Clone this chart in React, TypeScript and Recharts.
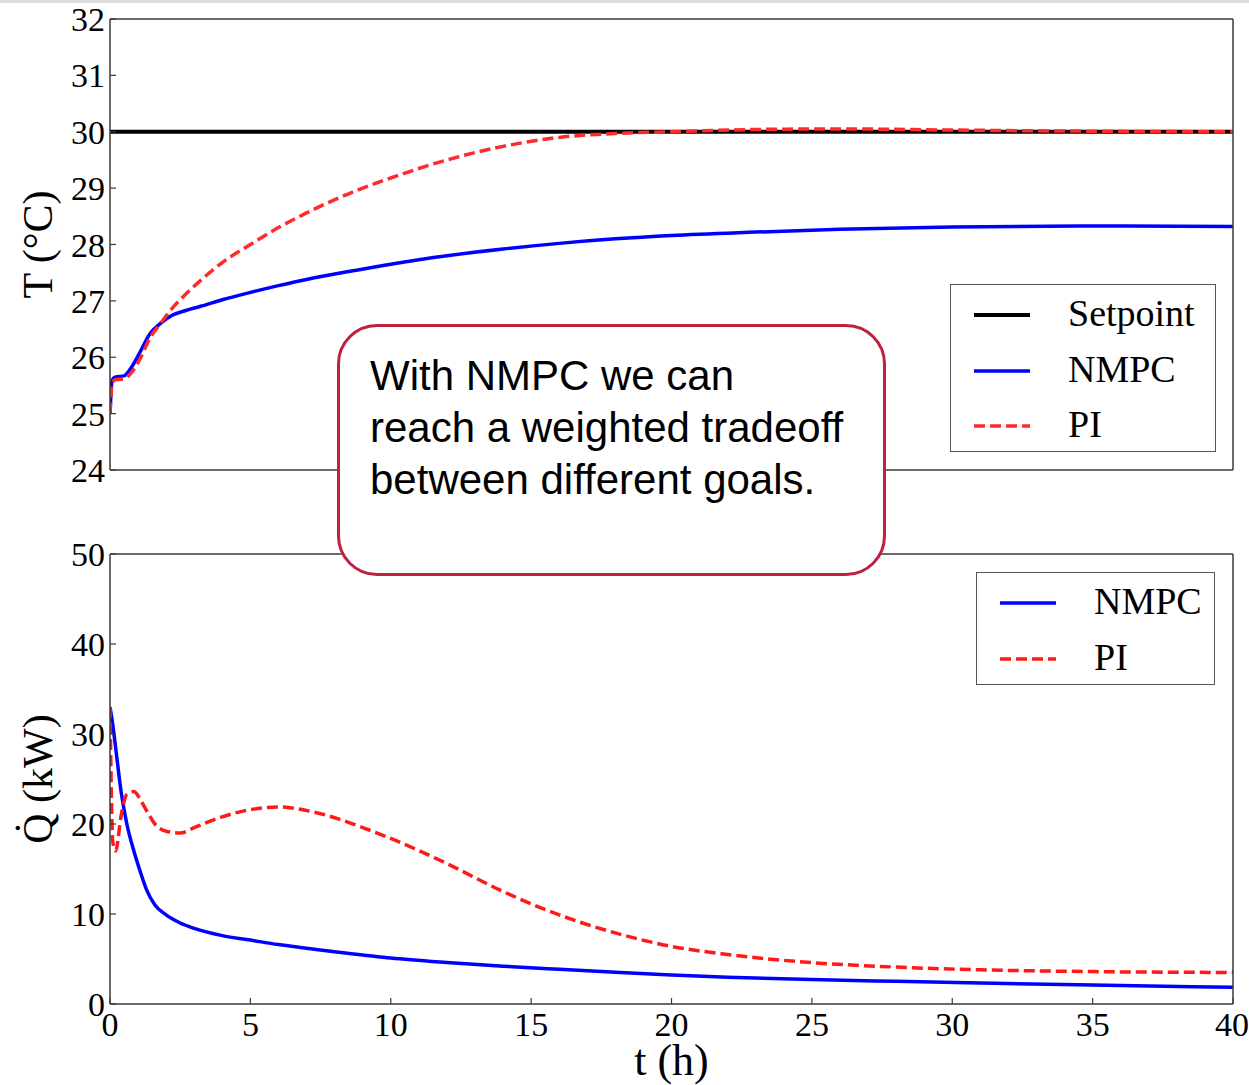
import { LineChart, Line, XAxis, YAxis, Legend, Label } from "recharts"

// time grid (h) and room temperature (°C)
const tempTime = [0, 0.08, 0.2, 0.5, 0.8, 1.1, 1.4, 1.8, 2.2, 2.7, 3.2, 4, 5, 6, 7, 8.5, 10, 12, 14, 16, 18, 20, 23, 26, 30, 35, 40]
const tempNmpc = [25.0, 25.6, 25.65, 25.67, 25.85, 26.12, 26.4, 26.6, 26.74, 26.83, 26.9, 27.02, 27.15, 27.27, 27.38, 27.52, 27.65, 27.8, 27.92, 28.02, 28.1, 28.16, 28.22, 28.27, 28.31, 28.33, 28.32]
const tempPi = [25.0, 25.55, 25.6, 25.62, 25.75, 26.0, 26.32, 26.6, 26.86, 27.12, 27.35, 27.68, 28.0, 28.3, 28.56, 28.9, 29.18, 29.5, 29.74, 29.9, 29.97, 30.0, 30.04, 30.05, 30.03, 30.01, 30.0]
const setpointTime = [0, 40]
const setpointValue = [30, 30]

// heating power (kW)
const heatTime = [0, 0.1, 0.2, 0.4, 0.6, 0.85, 1.1, 1.3, 1.6, 2, 2.5, 3, 4, 5, 6, 7, 8, 9, 10, 12, 14, 16, 18, 20, 22, 25, 28, 31, 35, 40]
const heatNmpc = [33, 31, 28.5, 23.5, 20, 17, 14.5, 12.7, 11, 9.9, 9.0, 8.4, 7.6, 7.1, 6.6, 6.2, 5.8, 5.45, 5.1, 4.6, 4.2, 3.85, 3.52, 3.22, 2.98, 2.72, 2.52, 2.33, 2.1, 1.85]
const heatPi = [33, 18, 17, 21, 23.3, 23.6, 22.6, 21.5, 20.0, 19.2, 19.0, 19.6, 20.8, 21.6, 21.9, 21.5, 20.7, 19.6, 18.4, 15.6, 12.5, 9.9, 7.9, 6.4, 5.5, 4.6, 4.1, 3.8, 3.6, 3.5]

const timeTicks = [0, 5, 10, 15, 20, 25, 30, 35, 40]
const tempTicks = [24, 25, 26, 27, 28, 29, 30, 31, 32]
const heatTicks = [0, 10, 20, 30, 40, 50]
const legendOrder = ["Setpoint", "NMPC", "PI"]

const serif = '"Liberation Serif", "DejaVu Serif", serif'
const frame = "#3a3a3a"
const tickFont = { fontFamily: serif, fontSize: 34, fill: "#000" }

const tempRows = tempTime.map((t, i) => ({ t, nmpc: tempNmpc[i], pi: tempPi[i] }))
const setpointRows = setpointTime.map((t, i) => ({ t, sp: setpointValue[i] }))
const heatRows = heatTime.map((t, i) => ({ t, nmpc: heatNmpc[i], pi: heatPi[i] }))

function LegendBox(props: any) {
  const items = [...(props.payload || [])].sort(
    (a: any, b: any) => legendOrder.indexOf(a.value) - legendOrder.indexOf(b.value)
  )
  return (
    <div
      style={{
        position: "relative",
        width: "100%",
        height: "100%",
        boxSizing: "border-box",
        border: "1.5px solid #555",
        background: "#fff",
        fontFamily: serif,
      }}
    >
      {items.map((it: any, i: number) => (
        <div key={it.value} style={{ position: "absolute", left: 22, top: 30 + i * 55.5, height: 0 }}>
          <svg width={58} height={10} style={{ position: "absolute", left: 0, top: -5 }}>
            <line
              x1={1}
              x2={57}
              y1={5}
              y2={5}
              stroke={it.color}
              strokeWidth={it.value === "Setpoint" ? 4 : 3.5}
              strokeDasharray={it.payload?.strokeDasharray}
            />
          </svg>
          <span
            style={{
              position: "absolute",
              left: 95,
              top: -24,
              fontSize: 38,
              lineHeight: "44px",
              whiteSpace: "nowrap",
              color: "#000",
            }}
          >
            {it.value}
          </span>
        </div>
      ))}
    </div>
  )
}

function SideLabel({ viewBox, text }: any) {
  const cx = viewBox.x + viewBox.width - 72
  const cy = viewBox.y + viewBox.height / 2
  return (
    <text
      x={cx}
      y={cy}
      transform={`rotate(-90 ${cx} ${cy})`}
      textAnchor="middle"
      dominantBaseline="central"
      fontFamily={serif}
      fontSize={42}
      fill="#000"
    >
      {text}
    </text>
  )
}

const axisProps = {
  axisLine: { stroke: frame, strokeWidth: 1.5 },
  tickLine: { stroke: frame, strokeWidth: 1.2 },
  tickSize: -6,
}

export default function App() {
  return (
    <div style={{ position: "fixed", left: 0, top: 0, width: 1249, height: 1085, background: "#fff", overflow: "hidden" }}>
      <div style={{ position: "absolute", left: 0, top: 0, width: 1249, height: 3, background: "#dcdcdc" }} />

      <div style={{ position: "absolute", left: 0, top: 0 }}>
        <LineChart width={1249} height={500} margin={{ top: 18, right: 15, bottom: 29, left: 109 }}>
          <XAxis
            {...axisProps}
            dataKey="t"
            type="number"
            domain={[0, 40]}
            ticks={timeTicks}
            tick={false}
            height={1}
            allowDataOverflow
          />
          <XAxis
            {...axisProps}
            xAxisId="top"
            orientation="top"
            dataKey="t"
            type="number"
            domain={[0, 40]}
            ticks={timeTicks}
            tick={false}
            height={1}
          />
          <YAxis
            {...axisProps}
            type="number"
            domain={[24, 32]}
            ticks={tempTicks}
            tick={tickFont}
            tickMargin={11}
            width={1}
            allowDataOverflow
          >
            <Label content={(p: any) => <SideLabel viewBox={p.viewBox} text="T (°C)" />} />
          </YAxis>
          <YAxis
            {...axisProps}
            yAxisId="right"
            orientation="right"
            type="number"
            domain={[24, 32]}
            ticks={tempTicks}
            tick={false}
            width={1}
          />
          <Legend
            layout="vertical"
            align="center"
            verticalAlign="middle"
            wrapperStyle={{ left: 950, top: 284, width: 266, height: 168 }}
            content={(p: any) => <LegendBox {...p} />}
          />
          <Line
            data={setpointRows}
            dataKey="sp"
            name="Setpoint"
            stroke="#000"
            strokeWidth={4}
            dot={false}
            isAnimationActive={false}
          />
          <Line
            data={tempRows}
            dataKey="nmpc"
            name="NMPC"
            type="monotone"
            stroke="#0000ff"
            strokeWidth={3.5}
            dot={false}
            isAnimationActive={false}
          />
          <Line
            data={tempRows}
            dataKey="pi"
            name="PI"
            type="monotone"
            stroke="#ff2a2a"
            strokeWidth={3.5}
            strokeDasharray="11 5"
            dot={false}
            isAnimationActive={false}
          />
        </LineChart>
      </div>

      <div style={{ position: "absolute", left: 0, top: 500 }}>
        <LineChart width={1249} height={585} margin={{ top: 53, right: 15, bottom: 80, left: 109 }}>
          <XAxis
            {...axisProps}
            dataKey="t"
            type="number"
            domain={[0, 40]}
            ticks={timeTicks}
            tick={tickFont}
            tickMargin={14}
            height={1}
            allowDataOverflow
          >
            <Label
              content={(p: any) => (
                <text
                  x={p.viewBox.x + p.viewBox.width / 2}
                  y={p.viewBox.y + 71}
                  textAnchor="middle"
                  fontFamily={serif}
                  fontSize={44}
                  fill="#000"
                >
                  t (h)
                </text>
              )}
            />
          </XAxis>
          <XAxis
            {...axisProps}
            xAxisId="top"
            orientation="top"
            dataKey="t"
            type="number"
            domain={[0, 40]}
            ticks={timeTicks}
            tick={false}
            height={1}
          />
          <YAxis
            {...axisProps}
            type="number"
            domain={[0, 50]}
            ticks={heatTicks}
            tick={tickFont}
            tickMargin={11}
            width={1}
            allowDataOverflow
          >
            <Label content={(p: any) => <SideLabel viewBox={p.viewBox} text="Q̇ (kW)" />} />
          </YAxis>
          <YAxis
            {...axisProps}
            yAxisId="right"
            orientation="right"
            type="number"
            domain={[0, 50]}
            ticks={heatTicks}
            tick={false}
            width={1}
          />
          <Legend
            layout="vertical"
            align="center"
            verticalAlign="middle"
            wrapperStyle={{ left: 976, top: 72, width: 239, height: 113 }}
            content={(p: any) => <LegendBox {...p} />}
          />
          <Line
            data={heatRows}
            dataKey="nmpc"
            name="NMPC"
            type="monotone"
            stroke="#0000ff"
            strokeWidth={3.5}
            dot={false}
            isAnimationActive={false}
          />
          <Line
            data={heatRows}
            dataKey="pi"
            name="PI"
            type="monotone"
            stroke="#ff1a1a"
            strokeWidth={3.5}
            strokeDasharray="11 5"
            dot={false}
            isAnimationActive={false}
          />
        </LineChart>
      </div>

      <div
        style={{
          position: "absolute",
          left: 337,
          top: 324,
          width: 549,
          height: 252,
          boxSizing: "border-box",
          border: "3px solid #c0203e",
          borderRadius: 40,
          background: "#fff",
          padding: "23px 0 0 30px",
          fontFamily: '"Liberation Sans", Arial, sans-serif',
          fontSize: 42,
          lineHeight: "52px",
          color: "#000",
        }}
      >
        With NMPC we can
        <br />
        reach a weighted tradeoff
        <br />
        between different goals.
      </div>
    </div>
  )
}
